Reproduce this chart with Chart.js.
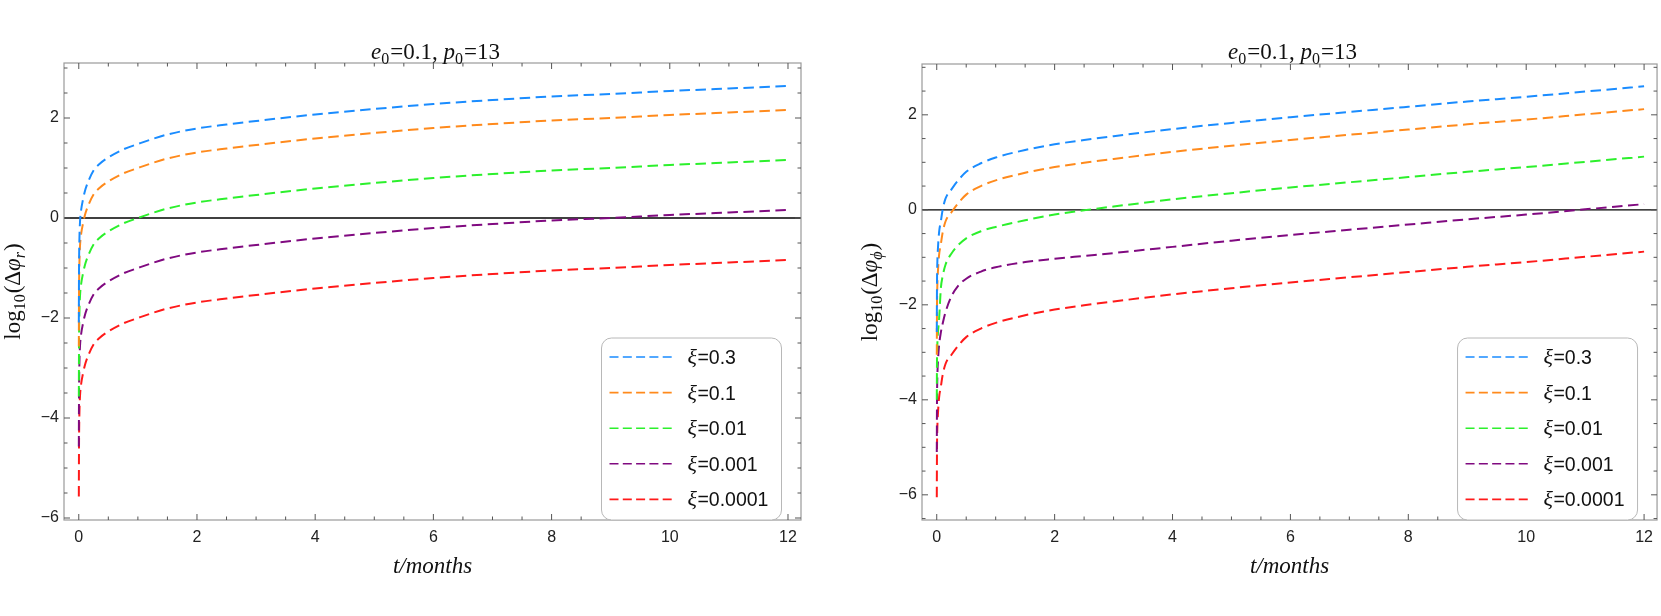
<!DOCTYPE html>
<html>
<head>
<meta charset="utf-8">
<script src="https://cdn.jsdelivr.net/npm/chart.js@4.4.1/dist/chart.umd.min.js"></script>
<style>
    html, body { margin: 0; padding: 0; background: #fff; }
    #lienzo { position: relative; width: 1661px; height: 616px; overflow: hidden; }
    .panel { position: absolute; top: 0; height: 616px; }
    canvas { display: block; }
</style>
</head>
<body>
<div id="lienzo">
    <div class="panel" style="left:0;width:830px"><canvas id="graficoRadial" width="830" height="616"></canvas></div>
    <div class="panel" style="left:830px;width:831px"><canvas id="graficoAzimutal" width="831" height="616"></canvas></div>
</div>
<script>
// ==============================================
// Datos: log10 del desfase frente a t (meses)
// ==============================================

const tMeses = [0.001, 0.004, 0.01, 0.02, 0.04, 0.07, 0.1, 0.15, 0.25, 0.35, 0.5, 0.75, 1, 1.5, 2, 2.5, 3, 4, 5, 6, 7, 8, 9, 10, 11, 12];

const etiquetasXi = ['0.3', '0.1', '0.01', '0.001', '0.0001'];
const coloresXi = ['#1a8cff', '#ff8a1c', '#2cf02c', '#800a80', '#ff1a1a'];

const ticksX = [0, 2, 4, 6, 8, 10, 12];
const ticksY = [-6, -4, -2, 0, 2];

// Panel izquierdo: log10(Δφ_r)
const radial03 = [-2.09, -1.07, -0.47, -0.10, 0.16, 0.36, 0.52, 0.70, 0.95, 1.08, 1.21, 1.37, 1.48, 1.67, 1.79, 1.87, 1.94, 2.07, 2.18, 2.28, 2.36, 2.43, 2.48, 2.54, 2.59, 2.64];
const radial01 = [-2.57, -1.55, -0.95, -0.58, -0.32, -0.12, 0.04, 0.22, 0.47, 0.60, 0.73, 0.89, 1.00, 1.19, 1.31, 1.39, 1.46, 1.59, 1.70, 1.80, 1.88, 1.95, 2.00, 2.06, 2.11, 2.16];
const radial001 = [-3.57, -2.55, -1.95, -1.58, -1.32, -1.12, -0.96, -0.78, -0.53, -0.40, -0.27, -0.11, 0.00, 0.19, 0.31, 0.39, 0.46, 0.59, 0.70, 0.80, 0.88, 0.95, 1.00, 1.06, 1.11, 1.16];
const radial0001 = [-4.57, -3.55, -2.95, -2.58, -2.32, -2.12, -1.96, -1.78, -1.53, -1.40, -1.27, -1.11, -1.00, -0.81, -0.69, -0.61, -0.54, -0.41, -0.30, -0.20, -0.12, -0.05, 0.00, 0.06, 0.11, 0.16];
const radial00001 = [-5.57, -4.55, -3.95, -3.58, -3.32, -3.12, -2.96, -2.78, -2.53, -2.40, -2.27, -2.11, -2.00, -1.81, -1.69, -1.61, -1.54, -1.41, -1.30, -1.20, -1.12, -1.05, -1.00, -0.94, -0.89, -0.84];

// Panel derecho: log10(Δφ_ϕ)
const azimutal03 = [-2.57, -1.62, -1.12, -0.82, -0.47, -0.24, 0.00, 0.24, 0.43, 0.60, 0.80, 0.98, 1.10, 1.26, 1.38, 1.47, 1.55, 1.70, 1.83, 1.95, 2.06, 2.17, 2.28, 2.38, 2.49, 2.60];
const azimutal01 = [-3.05, -2.10, -1.60, -1.30, -0.95, -0.72, -0.48, -0.24, -0.05, 0.12, 0.32, 0.50, 0.62, 0.78, 0.90, 0.99, 1.07, 1.22, 1.35, 1.47, 1.58, 1.69, 1.80, 1.90, 2.01, 2.12];
const azimutal001 = [-4.00, -3.20, -2.85, -2.60, -2.30, -1.65, -1.40, -1.15, -0.92, -0.76, -0.60, -0.45, -0.36, -0.22, -0.10, -0.01, 0.07, 0.22, 0.35, 0.47, 0.58, 0.69, 0.80, 0.90, 1.01, 1.12];
const azimutal0001 = [-5.10, -4.10, -3.55, -3.20, -2.85, -2.58, -2.40, -2.15, -1.82, -1.62, -1.45, -1.30, -1.21, -1.10, -1.03, -0.97, -0.91, -0.78, -0.65, -0.53, -0.42, -0.31, -0.20, -0.10, 0.01, 0.12];
const azimutal00001 = [-6.05, -5.10, -4.60, -4.30, -3.95, -3.72, -3.48, -3.24, -3.05, -2.88, -2.68, -2.50, -2.38, -2.22, -2.10, -2.01, -1.93, -1.78, -1.65, -1.53, -1.42, -1.31, -1.20, -1.10, -0.99, -0.88];

const SERIF = '"Liberation Serif", "Times New Roman", serif';
const SANS = '"Liberation Sans", Arial, sans-serif';

// Dibuja un texto compuesto (cursivas, subíndices) a partir de (x, y) en la línea base
function textoCompuesto(ctx, partes, x, y, alinear) {
    let ancho = 0;
    partes.forEach(p => {
        ctx.font = p.f;
        ancho += ctx.measureText(p.t).width + (p.sep || 0);
    });
    let cx = alinear === 'center' ? x - ancho / 2 : x;
    ctx.textAlign = 'left';
    ctx.textBaseline = 'alphabetic';
    partes.forEach(p => {
        ctx.font = p.f;
        ctx.fillText(p.t, cx, y + (p.dy || 0));
        cx += ctx.measureText(p.t).width + (p.sep || 0);
    });
}

// Plugin: marco de Mathematica, marcas interiores, línea y=0, título, etiqueta Y y leyenda
const pluginMarco = {
    id: 'marco',
    beforeDatasetsDraw(chart) {
        const {ctx, chartArea: a, scales: {y}} = chart;
        const y0 = y.getPixelForValue(0);
        ctx.save();
        ctx.strokeStyle = '#000';
        ctx.lineWidth = 1.4;
        ctx.beginPath();
        ctx.moveTo(a.left, y0);
        ctx.lineTo(a.right, y0);
        ctx.stroke();
        ctx.restore();
    },
    afterDraw(chart, args, opts) {
        const {ctx, chartArea: a, scales: {x, y}} = chart;
        ctx.save();

        // Marco
        ctx.strokeStyle = '#9a9a9a';
        ctx.lineWidth = 1.2;
        ctx.strokeRect(a.left, a.top, a.right - a.left, a.bottom - a.top);

        // Marcas (mayores cada 2, menores cada 0.5)
        ctx.strokeStyle = '#555';
        ctx.lineWidth = 1;
        ctx.beginPath();
        for (let v = 0; v <= 12.0001; v += 0.5) {
            const px = x.getPixelForValue(v);
            const l = (Math.round(v * 2) % 4 === 0) ? 6 : 3.5;
            ctx.moveTo(px, a.bottom); ctx.lineTo(px, a.bottom - l);
            ctx.moveTo(px, a.top); ctx.lineTo(px, a.top + l);
        }
        for (let v = -6.5; v <= 3.0001; v += 0.5) {
            if (v < y.min || v > y.max) continue;
            const py = y.getPixelForValue(v);
            const l = (Math.round(v * 2) % 4 === 0) ? 6 : 3.5;
            ctx.moveTo(a.left, py); ctx.lineTo(a.left + l, py);
            ctx.moveTo(a.right, py); ctx.lineTo(a.right - l, py);
        }
        ctx.stroke();

        // Título
        ctx.fillStyle = '#111';
        const fN = '23px ' + SERIF, fI = 'italic 23px ' + SERIF, fS = '16px ' + SERIF;
        textoCompuesto(ctx, [
            {t: 'e', f: fI}, {t: '0', f: fS, dy: 5, sep: 1}, {t: '=0.1, ', f: fN},
            {t: 'p', f: fI}, {t: '0', f: fS, dy: 5, sep: 1}, {t: '=13', f: fN}
        ], (a.left + a.right) / 2 + 3, 59, 'center');

        // Etiqueta del eje Y, girada
        ctx.save();
        ctx.translate(opts.xEtiqueta, (a.top + a.bottom) / 2);
        ctx.rotate(-Math.PI / 2);
        textoCompuesto(ctx, [
            {t: 'log', f: '23px ' + SERIF},
            {t: '10', f: '16px ' + SERIF, dy: 5, sep: 1},
            {t: '(Δ', f: '23px ' + SERIF},
            {t: 'φ', f: 'italic 23px ' + SERIF},
            {t: opts.subindice, f: 'italic 16px ' + SERIF, dy: 5, sep: 1},
            {t: ')', f: '23px ' + SERIF}
        ], 0, 0, 'center');
        ctx.restore();

        // Leyenda
        const w = 180, h = 182;
        const lx = a.right - 19.5 - w, ly = a.bottom - h;
        ctx.beginPath();
        ctx.roundRect(lx, ly, w, h, 10);
        ctx.fillStyle = '#fff';
        ctx.fill();
        ctx.strokeStyle = '#b8b8b8';
        ctx.lineWidth = 1;
        ctx.stroke();
        chart.data.datasets.forEach((ds, i) => {
            const yc = ly + 19 + i * 35.6;
            ctx.strokeStyle = ds.borderColor;
            ctx.lineWidth = 1.6;
            ctx.setLineDash([9, 4.3]);
            ctx.beginPath();
            ctx.moveTo(lx + 8, yc);
            ctx.lineTo(lx + 71, yc);
            ctx.stroke();
            ctx.setLineDash([]);
            ctx.fillStyle = '#111';
            textoCompuesto(ctx, [
                {t: 'ξ', f: 'italic 22px ' + SERIF, sep: 0.5},
                {t: '=' + etiquetasXi[i], f: '19.5px ' + SANS}
            ], lx + 86, yc + 7, 'left');
        });

        ctx.restore();
    }
};

function crearGrafico(idCanvas, series, cfg) {
    const ctx = document.getElementById(idCanvas).getContext('2d');
    return new Chart(ctx, {
        type: 'line',
        data: {
            datasets: series.map((valores, i) => ({
                label: 'ξ=' + etiquetasXi[i],
                data: tMeses.map((t, k) => ({x: t, y: valores[k]})),
                borderColor: coloresXi[i],
                borderWidth: 2,
                borderDash: [10.5, 5.5],
                pointRadius: 0,
                fill: false,
                cubicInterpolationMode: 'monotone'
            }))
        },
        options: {
            responsive: false,
            animation: false,
            devicePixelRatio: 1,
            layout: { padding: { top: cfg.arriba, right: cfg.derecha, bottom: 0, left: 0 } },
            plugins: {
                legend: { display: false },
                tooltip: { enabled: false },
                marco: { xEtiqueta: cfg.xEtiqueta, subindice: cfg.subindice }
            },
            scales: {
                x: {
                    type: 'linear',
                    min: -0.25,
                    max: 12.22,
                    afterBuildTicks: (s) => { s.ticks = ticksX.map(v => ({value: v})); },
                    afterFit: (s) => { s.height = 96; },
                    grid: { display: false, drawTicks: false },
                    border: { display: false },
                    ticks: {
                        padding: 8,
                        color: '#222',
                        font: { family: SANS, size: 16 },
                        maxRotation: 0,
                        callback: (v) => String(v)
                    },
                    title: {
                        display: true,
                        text: 't/months',
                        color: '#111',
                        font: { family: SERIF, size: 23, style: 'italic' },
                        padding: { top: 0, bottom: 35 }
                    }
                },
                y: {
                    min: cfg.yMin,
                    max: cfg.yMax,
                    afterBuildTicks: (s) => { s.ticks = ticksY.map(v => ({value: v})); },
                    afterFit: (s) => { s.width = cfg.anchoY; },
                    grid: { display: false, drawTicks: false },
                    border: { display: false },
                    ticks: {
                        padding: 5,
                        color: '#222',
                        font: { family: SANS, size: 16 },
                        callback: (v) => String(v).replace('-', '\u2212')
                    }
                }
            }
        },
        plugins: [pluginMarco]
    });
}

crearGrafico('graficoRadial',
    [radial03, radial01, radial001, radial0001, radial00001],
    { yMin: -6.04, yMax: 3.1, arriba: 63, derecha: 29, anchoY: 64, xEtiqueta: 20, subindice: 'r' });

crearGrafico('graficoAzimutal',
    [azimutal03, azimutal01, azimutal001, azimutal0001, azimutal00001],
    { yMin: -6.53, yMax: 3.07, arriba: 64, derecha: 1, anchoY: 92, xEtiqueta: 47, subindice: 'ϕ' });
</script>
</body>
</html>
